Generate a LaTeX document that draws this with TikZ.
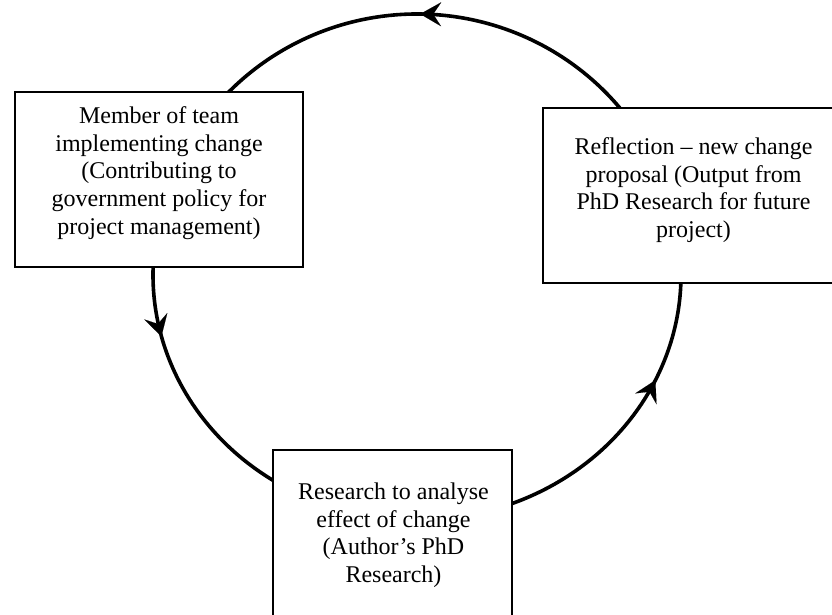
\documentclass[tikz,border=0pt]{standalone}
\usepackage{fontspec}
\setmainfont{Liberation Serif}
\usetikzlibrary{arrows.meta,decorations.markings,calc,backgrounds}
\begin{document}
\begin{tikzpicture}[x=1pt,y=1pt,
  cyclearc/.style={line width=3.6pt, postaction={decorate}},
  tipmark/.style={decoration={markings,
      mark=at position #1 with {\arrow{Stealth[length=21pt,width=24pt,inset=8pt,line width=0.1pt]}}}},
  box/.style={draw, line width=1.6pt, fill=white, inner sep=0pt},
  boxtext/.style={inner sep=0pt, anchor=north, align=center,
      font=\fontsize{24pt}{27.6pt}\selectfont}
]
\useasboundingbox (0,0) rectangle (832,615);
\clip (0,0) rectangle (832,615);

% the three stages of the cycle
\node[box, minimum width=288pt, minimum height=175pt] (member) at (159,435.5) {};
\node[box, minimum width=301pt, minimum height=175pt] (reflection) at (693.5,419.5) {};
\node[box, minimum width=239pt, minimum height=190pt] (research) at (392.5,70) {};

\node[boxtext] (memberText) at ($(member.north)+(0,-15.5)$)
  {Member of team\\implementing change\\(Contributing to\\government policy for\\project management)};
\node[boxtext] (reflectionText) at ($(reflection.north)+(0,-30.5)$)
  {Reflection – new change\\proposal (Output from\\PhD Research for future\\project)};
\node[boxtext] (researchText) at ($(research.north)+(1,-33.5)$)
  {Research to analyse\\effect of change\\(Author’s PhD\\Research)};

% centre of the cycle and the points where each arc leaves its box
\coordinate (O) at (417,340);
\coordinate (memberOut) at ($(O)+(177:264 and 261)$);
\coordinate (researchOut) at ($(O)+(290.5:264 and 245)$);
\coordinate (reflectionOut) at ($(O)+(38:264 and 261)$);

% arcs run behind the boxes, which hide their ends
\begin{pgfonlayer}{background}
\draw[cyclearc, tipmark=0.284] (memberOut)
  arc[start angle=177, end angle=180, x radius=264, y radius=261]
  arc[start angle=180, end angle=238, x radius=264, y radius=245];
\draw[cyclearc, tipmark=0.647] (researchOut)
  arc[start angle=290.5, end angle=359.5, x radius=264, y radius=245];
\draw[cyclearc, tipmark=0.513] (reflectionOut)
  arc[start angle=38, end angle=138, x radius=264, y radius=261];
\end{pgfonlayer}
\end{tikzpicture}
\end{document}
